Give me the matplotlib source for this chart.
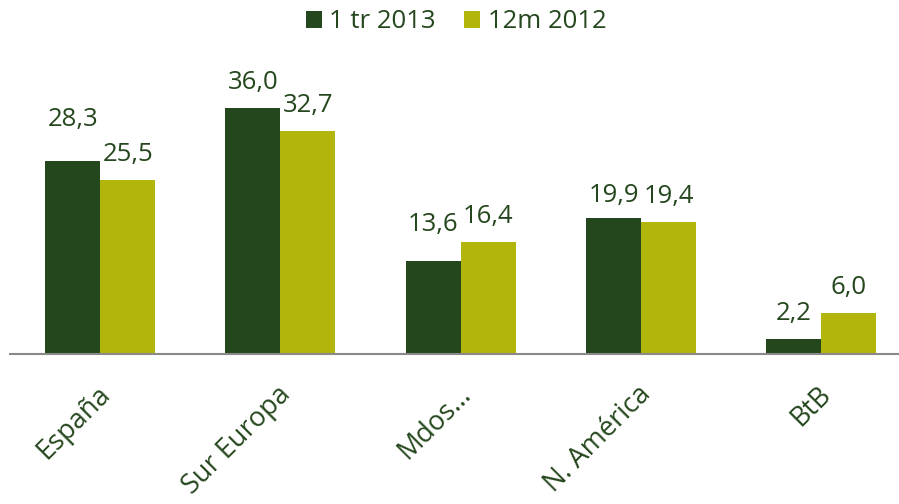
#!/usr/bin/env python3
"""Grouped bar chart: 1 tr 2013 vs 12m 2012 by region."""

import matplotlib
matplotlib.use("Agg")
import matplotlib.pyplot as plt
import matplotlib.transforms as mtransforms
import numpy as np

categories = ["España", "Sur Europa", "Mdos…", "N. América", "BtB"]
q1_2013 = [28.3, 36.0, 13.6, 19.9, 2.2]
m12_2012 = [25.5, 32.7, 16.4, 19.4, 6.0]
series_names = ["1 tr 2013", "12m 2012"]

# label gap above each bar, in pixels (as placed in the original)
gap_q1 = [29, 13, 24, 10, 13]
gap_m12 = [13, 13, 13, 13, 13]

DARK = "#25471d"
LIGHT = "#b2b50c"
TEXT = "#25471d"

plt.rcParams["font.family"] = ["Open Sans", "DejaVu Sans"]
FS = 18.5

W, H, DPI = 899, 504, 100
fig = plt.figure(figsize=(W / DPI, H / DPI), dpi=DPI)

spacing = 180.3
left_px, base_px = 10, 354
ax_w = W - left_px
ax = fig.add_axes([left_px / W, (H - base_px) / H, ax_w / W, 273 / H])

x = np.arange(len(categories))
bw = 0.305
b1 = ax.bar(x - bw / 2, q1_2013, bw, color=DARK, label=series_names[0])
b2 = ax.bar(x + bw / 2, m12_2012, bw, color=LIGHT, label=series_names[1])

px2pt = 72 / DPI
for bars, vals, gaps in ((b1, q1_2013, gap_q1), (b2, m12_2012, gap_m12)):
    for rect, v, g in zip(bars, vals, gaps):
        ax.annotate(f"{v:.1f}".replace(".", ","),
                    xy=(rect.get_x() + rect.get_width() / 2, v),
                    xytext=(0, g * px2pt), textcoords="offset points",
                    ha="center", va="bottom", fontsize=FS, color=TEXT)

ax.set_xlim(-0.5, -0.5 + ax_w / spacing)
ax.set_ylim(0, 40)
ax.set_yticks([])
for s in ("top", "right", "left"):
    ax.spines[s].set_visible(False)
ax.spines["bottom"].set_color("#898989")
ax.spines["bottom"].set_linewidth(1.5)

ax.set_xticks(x)
ax.set_xticklabels(categories, rotation=45, ha="right", va="top",
                   rotation_mode="anchor", fontsize=19.5, color=TEXT)
ax.tick_params(axis="x", length=0, pad=19)
shift = mtransforms.ScaledTranslation(-4 / DPI, 0, fig.dpi_scale_trans)
for lbl in ax.get_xticklabels():
    lbl.set_transform(lbl.get_transform() + shift)

fig.legend(loc="center", bbox_to_anchor=(456 / W, 1 - 22 / H), ncol=2,
           frameon=False, fontsize=FS, labelcolor=TEXT,
           handlelength=0.62, handleheight=0.62, handletextpad=0.3,
           columnspacing=1.1, borderpad=0)

fig.savefig("out.png", dpi=DPI)
